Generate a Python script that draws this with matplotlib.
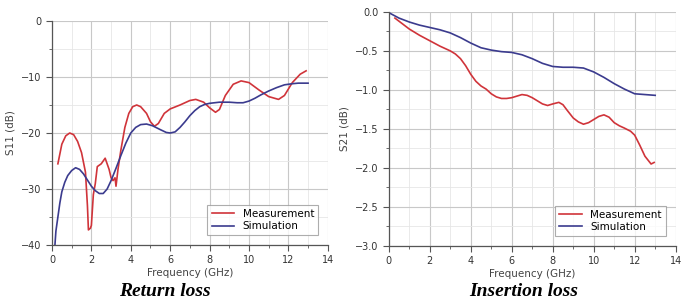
import numpy as np
import matplotlib.pyplot as plt
from matplotlib.ticker import MultipleLocator

# Return loss (S11, dB)
f_s11_meas = [0.3, 0.5, 0.7, 0.9, 1.1, 1.3, 1.5, 1.7, 1.8, 1.85, 1.95, 2.0, 2.1, 2.2, 2.3,
              2.5, 2.7, 2.9, 3.0, 3.1, 3.2, 3.25, 3.35, 3.5, 3.7, 3.9, 4.1, 4.3, 4.5,
              4.8, 5.0, 5.2, 5.4, 5.7, 6.0, 6.5, 7.0, 7.3, 7.7, 8.0, 8.3, 8.5, 8.8,
              9.2, 9.6, 10.0, 10.5, 11.0, 11.5, 11.8, 12.2, 12.6, 12.9]
s11_meas = [-25.5, -22.0, -20.5, -20.0, -20.3, -21.5, -23.5, -27.0, -33.0, -37.3, -37.0, -36.5,
            -31.0, -29.0, -26.0, -25.5, -24.5, -26.5, -28.0, -28.5, -28.0, -29.5, -26.5,
            -23.0, -19.0, -16.5, -15.3, -15.0, -15.3, -16.5, -18.0, -18.8, -18.3, -16.5,
            -15.7, -15.0, -14.2, -14.0, -14.5, -15.5, -16.3, -15.8, -13.3, -11.3, -10.7,
            -11.0, -12.3, -13.5, -14.0, -13.3, -11.0, -9.5, -8.9]
f_s11_sim = [0.15, 0.2, 0.3, 0.4, 0.5, 0.65, 0.8, 1.0, 1.2, 1.4, 1.6, 1.8, 2.0, 2.2, 2.4,
             2.6, 2.8, 3.0, 3.25, 3.5, 3.75, 4.0, 4.25, 4.5, 4.8, 5.1, 5.5, 5.8, 6.0,
             6.25, 6.5, 6.75, 7.0, 7.25, 7.5, 7.75, 8.0, 8.5, 9.0, 9.4, 9.7, 10.0, 10.3,
             10.6, 11.0, 11.4, 11.8, 12.2, 12.5, 13.0]
s11_sim = [-40.0, -37.5, -35.0, -32.5, -30.5, -28.8, -27.6, -26.7, -26.2, -26.5, -27.3,
           -28.4, -29.5, -30.3, -30.8, -30.8, -30.0, -28.5, -26.3, -24.0, -21.8, -20.0,
           -19.0, -18.5, -18.4, -18.7, -19.4, -19.9, -20.0, -19.8, -19.0, -18.0, -16.9,
           -16.0, -15.3, -14.9, -14.7, -14.5, -14.5, -14.6, -14.6, -14.3, -13.8, -13.2,
           -12.5, -11.9, -11.4, -11.2, -11.1, -11.1]

# Insertion loss (S21, dB)
f_s21_meas = [0.3, 0.5, 1.0, 1.5, 2.0, 2.5, 3.0, 3.25, 3.5, 3.75, 4.0, 4.25, 4.5, 4.75,
              5.0, 5.25, 5.5, 5.75, 6.0, 6.25, 6.5, 6.75, 7.0, 7.25, 7.5, 7.75, 8.0, 8.3,
              8.5, 8.7, 9.0, 9.25, 9.5, 9.75, 10.0, 10.25, 10.5, 10.75, 11.0, 11.25, 11.5,
              11.8, 12.0, 12.25, 12.5, 12.8, 12.95]
s21_meas = [-0.08, -0.12, -0.22, -0.30, -0.37, -0.44, -0.50, -0.54, -0.60, -0.69, -0.80,
            -0.89, -0.95, -0.99, -1.05, -1.09, -1.11, -1.11, -1.10, -1.08, -1.06, -1.07,
            -1.10, -1.14, -1.18, -1.20, -1.18, -1.16, -1.19, -1.26, -1.36, -1.41, -1.44,
            -1.42, -1.38, -1.34, -1.32, -1.35, -1.42, -1.46, -1.49, -1.53, -1.58, -1.71,
            -1.85, -1.95, -1.93]
f_s21_sim = [0.0, 0.5, 1.0, 1.5, 2.0, 2.5, 3.0, 3.5, 4.0, 4.5, 5.0, 5.5, 6.0, 6.5, 7.0,
             7.5, 8.0, 8.5, 9.0, 9.5, 10.0, 10.5, 11.0, 11.5, 12.0, 12.5, 13.0]
s21_sim = [-0.01, -0.08, -0.13, -0.17, -0.20, -0.23, -0.27, -0.33, -0.40, -0.46, -0.49,
           -0.51, -0.52, -0.55, -0.60, -0.66, -0.70, -0.71, -0.71, -0.72, -0.77, -0.84,
           -0.92, -0.99, -1.05, -1.06, -1.07]

red = '#d0343a'
blue = '#3b3b8e'
gray = '#555555'

fig = plt.figure(figsize=(6.93, 3.04), dpi=100)
ax1 = fig.add_axes([0.075, 0.194, 0.398, 0.737])
ax2 = fig.add_axes([0.561, 0.191, 0.414, 0.770])


def style(ax, ymin, ymax, ymajor, yminor, ylabel, fmt):
    ax.set_xlim(0, 14)
    ax.set_ylim(ymin, ymax)
    ax.xaxis.set_major_locator(MultipleLocator(2))
    ax.xaxis.set_minor_locator(MultipleLocator(1))
    ax.yaxis.set_major_locator(MultipleLocator(ymajor))
    ax.yaxis.set_minor_locator(MultipleLocator(yminor))
    ax.yaxis.set_major_formatter(fmt)
    ax.grid(True, which='major', color='#c8c8c8', lw=0.8)
    ax.grid(True, which='minor', color='#e6e6e6', lw=0.6)
    ax.set_axisbelow(True)
    for s in ['top', 'right']:
        ax.spines[s].set_visible(False)
    for s in ['left', 'bottom']:
        ax.spines[s].set_color(gray)
        ax.spines[s].set_linewidth(0.9)
    ax.tick_params(which='both', colors=gray, labelsize=7, labelcolor='#333333')
    ax.tick_params(which='major', length=4)
    ax.tick_params(which='minor', length=2)
    ax.set_xlabel('Frequency (GHz)', fontsize=7.5, color='#444444', labelpad=2)
    ax.set_ylabel(ylabel, fontsize=7.5, color='#444444', labelpad=4)
    leg = ax.legend(loc='lower right', fontsize=7.5, frameon=True, fancybox=False,
                    handlelength=2.2, borderpad=0.4, labelspacing=0.2,
                    bbox_to_anchor=(0.985, 0.02))
    leg.get_frame().set_edgecolor('#999999')
    leg.get_frame().set_linewidth(0.8)


ax1.plot(f_s11_meas, s11_meas, color=red, lw=1.2, label='Measurement')
ax1.plot(f_s11_sim, s11_sim, color=blue, lw=1.2, label='Simulation')
style(ax1, -40, 0, 10, 5, 'S11 (dB)', '{x:.0f}')

ax2.plot(f_s21_meas, s21_meas, color=red, lw=1.2, label='Measurement')
ax2.plot(f_s21_sim, s21_sim, color=blue, lw=1.2, label='Simulation')
style(ax2, -3.0, 0.0, 0.5, 0.25, 'S21 (dB)', '{x:.1f}')

fig.text(0.238, 0.012, 'Return loss', fontsize=14, fontweight='bold', fontstyle='italic',
         family='Liberation Serif', ha='center', va='bottom')
fig.text(0.755, 0.012, 'Insertion loss', fontsize=14, fontweight='bold', fontstyle='italic',
         family='Liberation Serif', ha='center', va='bottom')

fig.savefig('out.png', dpi=100)
